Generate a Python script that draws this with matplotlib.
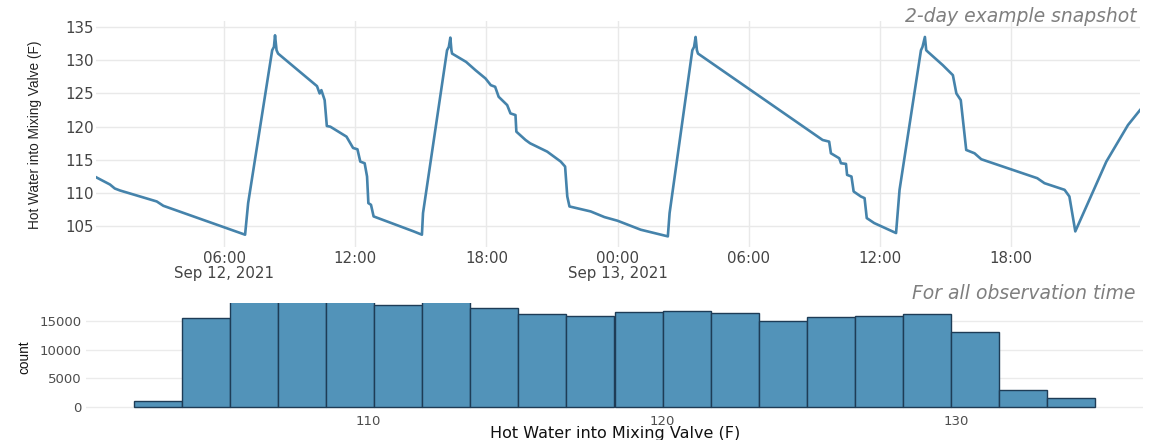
import matplotlib
matplotlib.use("Agg")
import matplotlib.pyplot as plt
import numpy as np
import pandas as pd

# ---------------- data ----------------
# hours since 2021-09-12 00:00, and temperature (F)
hours = [0.14, 0.78, 1.0, 1.24, 2.92, 3.22, 6.96, 7.1, 8.2, 8.28, 8.33, 8.4, 8.47,
         10.25, 10.37, 10.45, 10.6, 10.7, 10.86, 11.6, 11.9, 12.1, 12.23, 12.43,
         12.54, 12.6, 12.72, 12.84, 14.06, 14.67, 15.05, 15.1, 16.2, 16.28, 16.35,
         16.4, 16.43, 17.07, 17.5, 17.96, 18.2, 18.4, 18.56, 18.95, 19.1, 19.33,
         19.37, 19.79, 20.0, 20.78, 21.4, 21.6, 21.7, 21.8, 22.77, 23.4, 24.0,
         25.06, 26.3, 26.38, 27.42, 27.5, 27.57, 27.63, 27.68, 33.38, 33.68, 33.76,
         34.14, 34.22, 34.45, 34.5, 34.7, 34.8, 35.13, 35.3, 35.4, 35.74, 36.74,
         36.9, 37.88, 37.95, 38.06, 38.12, 38.2, 38.88, 39.34, 39.5, 39.7, 39.95,
         40.33, 40.64, 43.2, 43.53, 44.45, 44.67, 44.94, 45.82, 46.36, 47.35, 47.9]
temps = [112.4, 111.3, 110.7, 110.4, 108.75, 108.1, 103.75, 108.5, 131.5, 132.0, 133.75,
         131.5, 131.0, 126.1, 125.0, 125.5, 124.0, 120.1, 120.0, 118.5, 116.8, 116.6,
         114.75, 114.5, 112.5, 108.5, 108.25, 106.5, 105.0, 104.25, 103.75, 107.0, 131.5,
         132.0, 133.4, 131.5, 131.0, 129.75, 128.5, 127.25, 126.25, 126.0, 124.5, 123.25,
         122.0, 121.75, 119.25, 118.0, 117.5, 116.25, 114.75, 114.0, 109.5, 108.0, 107.25,
         106.4, 105.85, 104.5, 103.5, 107.0, 131.5, 132.0, 133.5, 131.5, 131.0, 118.0,
         117.75, 116.0, 115.25, 114.5, 114.4, 112.75, 112.5, 110.25, 109.5, 109.25, 106.25,
         105.5, 104.0, 110.5, 131.5, 132.0, 133.5, 131.5, 131.25, 129.25, 127.75, 125.0,
         124.0, 116.5, 116.0, 115.1, 112.25, 111.5, 110.5, 109.5, 104.25, 110.75, 114.75,
         120.25, 122.5]

tick_hours = [6, 12, 18, 24, 30, 36, 42]
tick_labels = ["06:00\nSep 12, 2021", "12:00", "18:00", "00:00\nSep 13, 2021",
               "06:00", "12:00", "18:00"]
y_ticks_top = [105, 110, 115, 120, 125, 130, 135]

# histogram (bins of width 1.633 F starting at 102.04 F)
bin_start = 102.04
bin_width = 1.633
counts = [1050, 15470, 18600, 18600, 18600, 17800, 18700, 17330, 16300, 15930,
          16630, 16800, 16460, 15000, 15750, 15930, 16230, 13020, 2920, 1470]
x_ticks_bottom = [110, 120, 130]
y_ticks_bottom = [0, 5000, 10000, 15000]

# ---------------- figure ----------------
W, H = 1164, 440
fig = plt.figure(figsize=(W / 100, H / 100), dpi=100)
fig.patch.set_facecolor("white")

def rect(l, t, r, b):
    return [l / W, 1 - b / H, (r - l) / W, (b - t) / H]

base = pd.Timestamp("2021-09-12 00:00")
times = base + pd.to_timedelta(hours, unit="h")
tick_times = base + pd.to_timedelta(tick_hours, unit="h")

line_color = "#4583ab"
grid_top = "#e9e9e9"

ax1 = fig.add_axes(rect(96, 21, 1140, 247))
ax1.plot(times, temps, color=line_color, lw=1.9, solid_joinstyle="round")
ax1.set_xlim(times[0], times[-1])
ax1.set_ylim(101.9, 135.9)
ax1.set_xticks(tick_times)
ax1.set_xticklabels(tick_labels)
ax1.set_yticks(y_ticks_top)
ax1.grid(True, color=grid_top, lw=1.0)
ax1.set_axisbelow(True)
for s in ax1.spines.values():
    s.set_visible(False)
ax1.tick_params(axis="both", length=0, labelsize=10.8, labelcolor="#444444",
                labelfontfamily="DejaVu Sans")
ax1.tick_params(axis="x", pad=3.0)
ax1.tick_params(axis="y", pad=1.5)
for t in ax1.get_xticklabels():
    t.set_linespacing(0.95)

fig.text(35 / W, 1 - 135 / H, "Hot Water into Mixing Valve (F)", rotation=90,
         ha="center", va="center", fontsize=9.8, family="Liberation Sans",
         color="#222222")
fig.text(1137 / W, 1 - 16 / H, "2-day example snapshot", ha="right", va="center",
         fontsize=13.5, style="italic", color="#7f7f7f", family="DejaVu Sans")

# bottom histogram
edges = bin_start + bin_width * np.arange(len(counts) + 1)
ax2 = fig.add_axes(rect(86, 303.3, 1143, 411.8))
ax2.bar(edges[:-1], counts, width=bin_width, align="edge", color="#5293b9",
        edgecolor="#1e3c56", linewidth=1.0)
ax2.set_xlim(edges[0] - 0.05 * (edges[-1] - edges[0]),
             edges[-1] + 0.05 * (edges[-1] - edges[0]))
ax2.set_ylim(-900, 18100)
ax2.set_xticks(x_ticks_bottom)
ax2.set_yticks(y_ticks_bottom)
ax2.grid(True, axis="y", color="#ebebeb", lw=1.0)
ax2.set_axisbelow(True)
for s in ax2.spines.values():
    s.set_visible(False)
ax2.tick_params(axis="both", length=0, labelsize=9.5, labelcolor="#4d4d4d",
                labelfontfamily="DejaVu Sans")
ax2.tick_params(axis="x", pad=2.0)
ax2.tick_params(axis="y", pad=3.0)

fig.text(24 / W, 1 - 357.5 / H, "count", rotation=90, ha="center", va="center",
         fontsize=9.8, family="Liberation Sans", color="#111111")
fig.text(615 / W, 1 - 437.5 / H, "Hot Water into Mixing Valve (F)", ha="center",
         va="baseline", fontsize=11.5, family="DejaVu Sans", color="#111111")
fig.text(1135 / W, 1 - 293.5 / H, "For all observation time", ha="right", va="center",
         fontsize=13.5, style="italic", color="#7f7f7f", family="DejaVu Sans")

fig.savefig("out.png", dpi=100, facecolor="white")
